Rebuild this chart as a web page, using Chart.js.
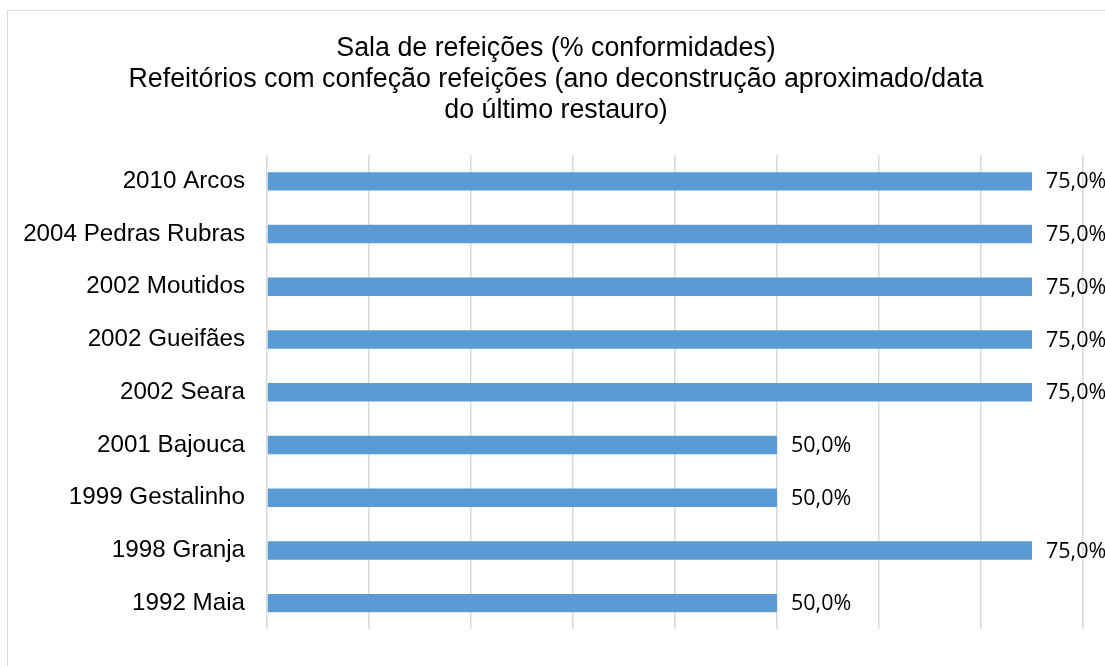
<!DOCTYPE html>
<html>
<head>
<meta charset="utf-8">
<script src="https://cdn.jsdelivr.net/npm/chart.js@4.4.1/dist/chart.umd.min.js"></script>
<style>
  html, body { margin: 0; padding: 0; background: #ffffff; }
  #wrap { width: 1105px; height: 666px; position: relative; }
</style>
</head>
<body>
<div id="wrap"><canvas id="c" width="1105" height="666"></canvas></div>
<script>
const titleLines = [
  'Sala de refeições (% conformidades)',
  'Refeitórios com confeção refeições (ano deconstrução aproximado/data',
  'do último restauro)'
];
const categories = [
  '2010 Arcos',
  '2004 Pedras Rubras',
  '2002 Moutidos',
  '2002 Gueifães',
  '2002 Seara',
  '2001 Bajouca',
  '1999 Gestalinho',
  '1998 Granja',
  '1992 Maia'
];
const conformidades = [75, 75, 75, 75, 75, 50, 50, 75, 50];
const axisMin = 0;
const axisMax = 80;
const axisStep = 10;

const frameAndLabels = {
  id: 'frameAndLabels',
  beforeDraw(chart) {
    const ctx = chart.ctx;
    ctx.save();
    ctx.strokeStyle = '#d9d9d9';
    ctx.lineWidth = 1;
    ctx.strokeRect(7.5, 10.5, 1200, 1000);
    ctx.restore();
  },
  afterDatasetsDraw(chart) {
    const ctx = chart.ctx;
    const meta = chart.getDatasetMeta(0);
    const data = chart.data.datasets[0].data;
    ctx.save();
    ctx.font = '21.5px "Open Sans", sans-serif';
    ctx.fillStyle = '#000000';
    ctx.textAlign = 'left';
    ctx.textBaseline = 'middle';
    meta.data.forEach((bar, i) => {
      const txt = data[i].toFixed(1).replace('.', ',') + '%';
      ctx.fillText(txt, bar.x + 14, bar.y + 1);
    });
    ctx.restore();
  }
};

new Chart(document.getElementById('c'), {
  type: 'bar',
  data: {
    labels: categories,
    datasets: [{
      data: conformidades,
      backgroundColor: '#5b9bd5',
      borderWidth: 0,
      categoryPercentage: 1,
      barPercentage: 0.35
    }]
  },
  options: {
    indexAxis: 'y',
    responsive: false,
    animation: false,
    layout: { padding: { top: 0, left: 7, right: 0, bottom: 24 } },
    plugins: {
      legend: { display: false },
      tooltip: { enabled: false },
      title: {
        display: true,
        text: titleLines,
        color: '#000000',
        font: { family: '"Liberation Sans", Arial, sans-serif', size: 26.8, weight: 'normal', lineHeight: 31 / 26.8 },
        padding: { top: 33, bottom: 29 }
      }
    },
    scales: {
      x: {
        type: 'linear',
        position: 'bottom',
        min: axisMin,
        max: axisMax,
        ticks: { display: false, stepSize: axisStep },
        grid: { color: '#d9d9d9', lineWidth: 1.5, drawTicks: false },
        border: { display: false },
        afterFit(scale) { scale.height = 0; }
      },
      y: {
        type: 'category',
        position: 'left',
        ticks: {
          color: '#000000',
          padding: 22,
          font: { family: '"Liberation Sans", Arial, sans-serif', size: 24.2 }
        },
        grid: { display: false, drawTicks: false },
        border: { display: false },
        afterFit(scale) { scale.width = 260; }
      },
      yRight: {
        type: 'category',
        position: 'right',
        display: true,
        ticks: { display: false },
        grid: { display: false, drawTicks: false },
        border: { display: false },
        afterFit(scale) { scale.width = 22; }
      }
    }
  },
  plugins: [frameAndLabels]
});
</script>
</body>
</html>
